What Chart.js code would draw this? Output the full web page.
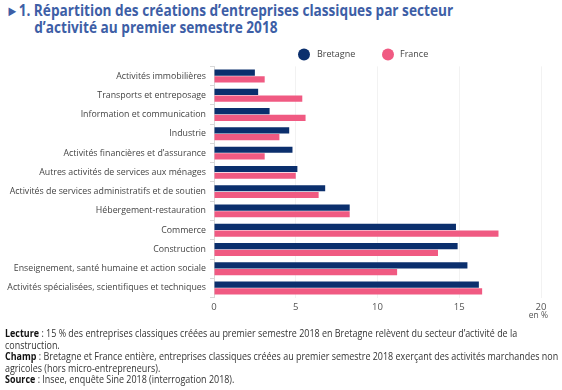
<!DOCTYPE html>
<html>
<head>
<meta charset="utf-8">
<script src="https://cdn.jsdelivr.net/npm/chart.js@4.4.1/dist/chart.umd.min.js"></script>
<style>
  html, body { margin: 0; padding: 0; background: #fff; }
  body { width: 562px; height: 390px; position: relative; overflow: hidden; font-family: "Open Sans", sans-serif; }
  #title { position: absolute; left: 6px; top: 2px; color: #3d5ea6; font-weight: 700; font-size: 15.5px; line-height: 17px; transform: scaleX(0.88); transform-origin: left top; white-space: nowrap; }
  #title .l2 { padding-left: 32px; }
  #title .tri { font-size: 14.5px; }
  #chartBox { position: absolute; left: 0; top: 40px; width: 562px; height: 290px; }
  #foot { position: absolute; left: 5px; top: 328px; font-size: 10px; line-height: 11.6px; color: #333; transform: scaleX(0.895); transform-origin: left top; white-space: nowrap; }
  #foot b { color: #111; font-weight: 700; }
</style>
</head>
<body>
<div id="title"><span class="tri">&#9658;</span>1. Répartition des créations d’entreprises classiques par secteur<br><span class="l2">d’activité au premier semestre 2018</span></div>
<div id="chartBox"><canvas id="c"></canvas></div>
<div id="foot">
<b>Lecture</b> : 15 % des entreprises classiques créées au premier semestre 2018 en Bretagne relèvent du secteur d’activité de la<br>
construction.<br>
<b>Champ</b> : Bretagne et France entière, entreprises classiques créées au premier semestre 2018 exerçant des activités marchandes non<br>
agricoles (hors micro-entrepreneurs).<br>
<b>Source</b> : Insee, enquête Sine 2018 (interrogation 2018).
</div>
<script>
const categories = [
  "Activités immobilières",
  "Transports et entreposage",
  "Information et communication",
  "Industrie",
  "Activités financières et d’assurance",
  "Autres activités de services aux ménages",
  "Activités de services administratifs et de soutien",
  "Hébergement-restauration",
  "Commerce",
  "Construction",
  "Enseignement, santé humaine et action sociale",
  "Activités spécialisées, scientifiques et techniques"
];
const bretagne = [2.5, 2.7, 3.4, 4.6, 4.8, 5.1, 6.8, 8.3, 14.8, 14.9, 15.5, 16.2];
const france   = [3.1, 5.4, 5.6, 4.0, 3.1, 5.0, 6.4, 8.3, 17.4, 13.7, 11.2, 16.4];
const xTicks = [0, 5, 10, 15, 20];
const seriesNames = ["Bretagne", "France"];
const seriesColors = ["#0b2f6d", "#f05a82"];
const unitLabel = "en %";

const legendPlugin = {
  id: 'customLegend',
  afterDraw(chart) {
    const ctx = chart.ctx;
    const pos = [[304, 14.5, 317], [388, 14.5, 400]];
    ctx.save();
    ctx.font = '9px "Open Sans", sans-serif';
    ctx.textBaseline = 'middle';
    chart.data.datasets.forEach((ds, i) => {
      const [cx, cy, tx] = pos[i];
      ctx.fillStyle = ds.backgroundColor;
      ctx.beginPath();
      ctx.arc(cx, cy, 6, 0, Math.PI * 2);
      ctx.fill();
      ctx.fillStyle = '#444';
      ctx.fillText(ds.label, tx, cy);
    });
    ctx.font = '8.5px "Open Sans", sans-serif';
    ctx.fillStyle = '#555';
    ctx.textAlign = 'right';
    ctx.fillText(unitLabel, 548, 276);
    ctx.restore();
  }
};

new Chart(document.getElementById('c'), {
  type: 'bar',
  data: {
    labels: categories,
    datasets: [
      { label: seriesNames[0], data: bretagne, backgroundColor: seriesColors[0], categoryPercentage: 0.7, barPercentage: 0.92 },
      { label: seriesNames[1], data: france, backgroundColor: seriesColors[1], categoryPercentage: 0.7, barPercentage: 0.92 }
    ]
  },
  options: {
    indexAxis: 'y',
    responsive: true,
    maintainAspectRatio: false,
    animation: false,
    layout: { padding: { top: 26.4, right: 21, left: 0, bottom: 0 } },
    plugins: { legend: { display: false }, tooltip: { enabled: false } },
    scales: {
      x: {
        min: 0, max: 20,
        afterBuildTicks(scale) { scale.ticks = xTicks.map(v => ({ value: v })); },
        afterFit(scale) { scale.height = 32.4; },
        border: { display: false },
        grid: { color: '#f2f2f2', drawTicks: false },
        ticks: { color: '#555', font: { family: 'Open Sans', size: 9.5 }, padding: 4 }
      },
      y: {
        afterFit(scale) { scale.width = 214; },
        border: { display: true, color: '#d8d8d8' },
        grid: { offset: true, drawOnChartArea: false, color: '#d8d8d8', tickLength: 4 },
        ticks: { color: '#444', font: { family: 'Open Sans', size: 8.8 }, padding: 4 }
      }
    }
  },
  plugins: [legendPlugin]
});
</script>
</body>
</html>
